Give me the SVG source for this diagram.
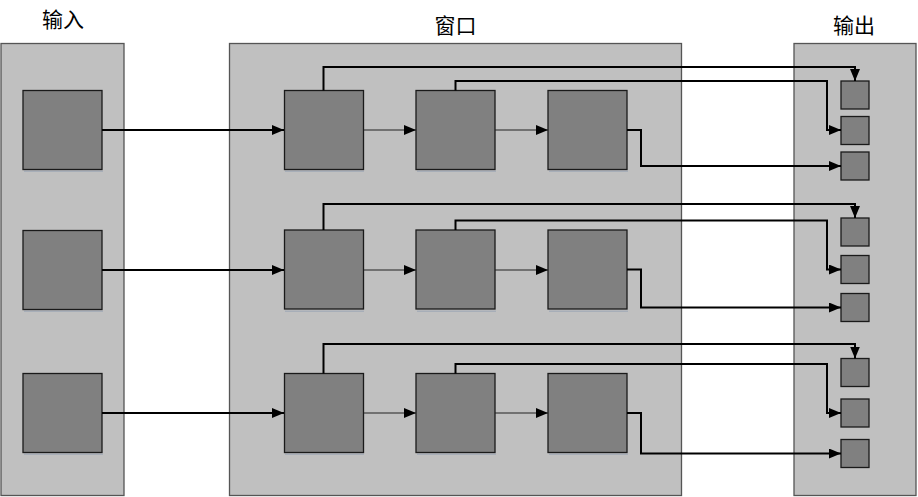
<svg xmlns="http://www.w3.org/2000/svg" width="918" height="497" viewBox="0 0 918 497">
<style>
.panel{fill:#c0c0c0;stroke:#555;stroke-width:1.3}
.box{fill:#808080;stroke:#1a1a1a;stroke-width:1.3}
.sh{fill:#a7aeb8}
.lbl{font-family:"Noto Sans CJK SC","Noto Sans CJK JP",sans-serif;font-size:21px;fill:#000;text-anchor:middle}
.thick{fill:none;stroke:#000;stroke-width:2}
.thin{fill:none;stroke:#222;stroke-width:1.2}
</style>
<defs>
<marker id="ah" markerUnits="userSpaceOnUse" markerWidth="12" markerHeight="10" viewBox="0 0 12 10" refX="12" refY="5" orient="auto">
<path d="M0,0 L12,5 L0,10 Z" fill="#000"/>
</marker>
</defs>
<g id="labels">
<text class="lbl" x="63" y="27">输入</text>
<text class="lbl" x="455.5" y="33">窗口</text>
<text class="lbl" x="854" y="33">输出</text>
</g>
<g id="panel-input"><rect class="panel" x="1" y="43.5" width="123" height="452"/></g>
<g id="panel-window"><rect class="panel" x="229.5" y="43.5" width="452" height="452"/></g>
<g id="panel-output"><rect class="panel" x="794" y="43.5" width="122" height="452"/></g>

<g id="input-1"><rect class="sh" x="24" y="170.5" width="79" height="1.5"/><rect class="box" x="23" y="90.5" width="79" height="79"/></g>
<g id="input-2"><rect class="sh" x="24" y="310.5" width="79" height="1.5"/><rect class="box" x="23" y="230.5" width="79" height="79"/></g>
<g id="input-3"><rect class="sh" x="24" y="453.5" width="79" height="1.5"/><rect class="box" x="23" y="373.5" width="79" height="79"/></g>

<g id="win-1-1"><rect class="sh" x="285" y="170.5" width="79" height="1.5"/><rect class="box" x="284.5" y="90.5" width="79" height="79"/></g>
<g id="win-1-2"><rect class="sh" x="417" y="170.5" width="79" height="1.5"/><rect class="box" x="416" y="90.5" width="79" height="79"/></g>
<g id="win-1-3"><rect class="sh" x="549" y="170.5" width="79" height="1.5"/><rect class="box" x="548" y="90.5" width="79" height="79"/></g>
<g id="win-2-1"><rect class="sh" x="285" y="310.5" width="79" height="1.5"/><rect class="box" x="284.5" y="230" width="79" height="79"/></g>
<g id="win-2-2"><rect class="sh" x="417" y="310.5" width="79" height="1.5"/><rect class="box" x="416" y="230" width="79" height="79"/></g>
<g id="win-2-3"><rect class="sh" x="549" y="310.5" width="79" height="1.5"/><rect class="box" x="548" y="230" width="79" height="79"/></g>
<g id="win-3-1"><rect class="sh" x="285" y="453.5" width="79" height="1.5"/><rect class="box" x="284.5" y="373.5" width="79" height="79"/></g>
<g id="win-3-2"><rect class="sh" x="417" y="453.5" width="79" height="1.5"/><rect class="box" x="416" y="373.5" width="79" height="79"/></g>
<g id="win-3-3"><rect class="sh" x="549" y="453.5" width="79" height="1.5"/><rect class="box" x="548" y="373.5" width="79" height="79"/></g>

<g id="out-1-1"><rect class="box" x="841" y="81" width="28" height="28"/></g>
<g id="out-1-2"><rect class="box" x="841" y="116.5" width="28" height="28"/></g>
<g id="out-1-3"><rect class="box" x="841" y="152" width="28" height="28"/></g>
<g id="out-2-1"><rect class="box" x="841" y="218" width="28" height="28"/></g>
<g id="out-2-2"><rect class="box" x="841" y="255.5" width="28" height="28"/></g>
<g id="out-2-3"><rect class="box" x="841" y="293.5" width="28" height="28"/></g>
<g id="out-3-1"><rect class="box" x="841" y="358.5" width="28" height="28"/></g>
<g id="out-3-2"><rect class="box" x="841" y="399" width="28" height="28"/></g>
<g id="out-3-3"><rect class="box" x="841" y="439.5" width="28" height="28"/></g>

<g id="connectors">
<path class="thick" d="M102,130 H284" marker-end="url(#ah)"/>
<path class="thick" d="M102,270 H284" marker-end="url(#ah)"/>
<path class="thick" d="M102,413 H284" marker-end="url(#ah)"/>

<path class="thin" d="M363.5,130 H416" marker-end="url(#ah)"/>
<path class="thin" d="M495,130 H548" marker-end="url(#ah)"/>
<path class="thin" d="M363.5,270 H416" marker-end="url(#ah)"/>
<path class="thin" d="M495,270 H548" marker-end="url(#ah)"/>
<path class="thin" d="M363.5,413 H416" marker-end="url(#ah)"/>
<path class="thin" d="M495,413 H548" marker-end="url(#ah)"/>

<path class="thick" d="M323.5,90.5 V67 H855 V81" marker-end="url(#ah)"/>
<path class="thick" d="M455.5,90.5 V81 H827 V130 H841" marker-end="url(#ah)"/>
<path class="thick" d="M627,130 H641 V166 H841" marker-end="url(#ah)"/>

<path class="thick" d="M323.5,230 V204 H855 V218" marker-end="url(#ah)"/>
<path class="thick" d="M455.5,230 V220.5 H827 V269.5 H841" marker-end="url(#ah)"/>
<path class="thick" d="M627,269.5 H641 V307.5 H841" marker-end="url(#ah)"/>

<path class="thick" d="M323.5,373.5 V344 H855 V358.5" marker-end="url(#ah)"/>
<path class="thick" d="M455.5,373.5 V364 H827 V413 H841" marker-end="url(#ah)"/>
<path class="thick" d="M627,413 H641 V453.5 H841" marker-end="url(#ah)"/>
</g>
</svg>
